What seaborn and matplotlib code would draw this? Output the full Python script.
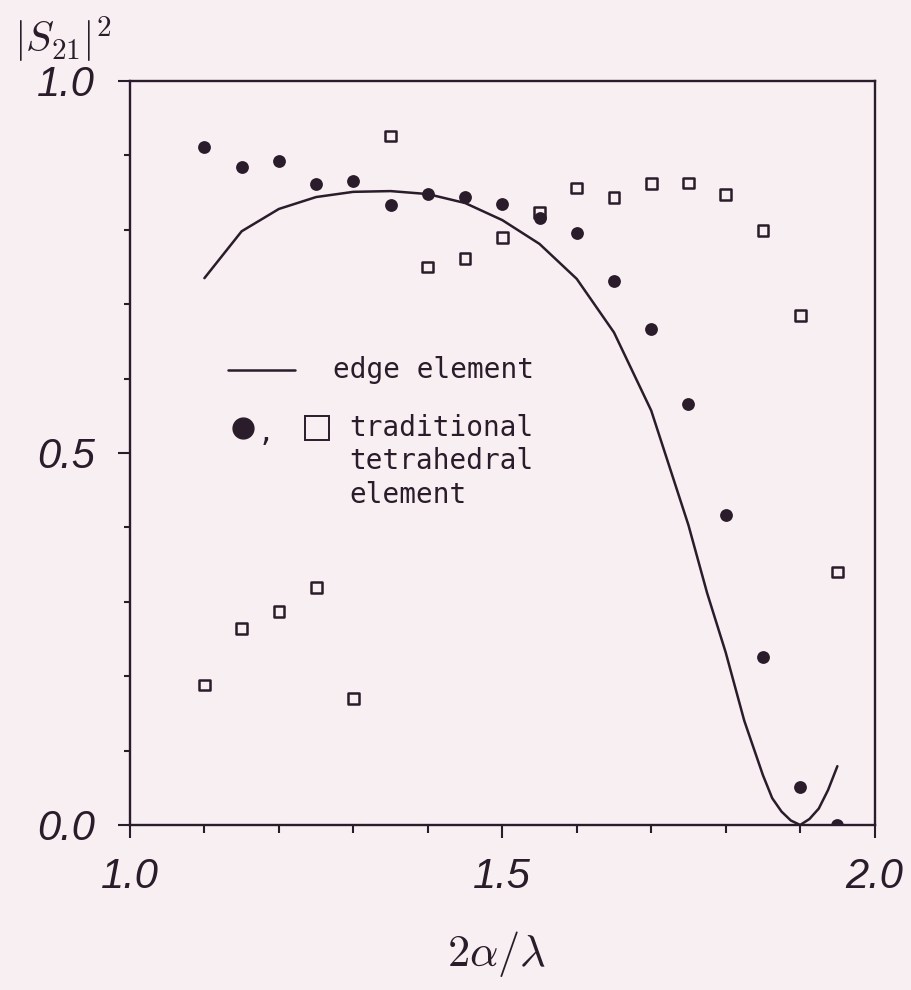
import matplotlib
matplotlib.use("Agg")
import matplotlib.pyplot as plt
import numpy as np
import pandas as pd
import seaborn as sns
from matplotlib.ticker import MultipleLocator, FixedLocator

# normalised frequency 2a/lambda at which the tetrahedral-element results were computed
x_points = [1.10, 1.15, 1.20, 1.25, 1.30, 1.35, 1.40, 1.45, 1.50,
            1.55, 1.60, 1.65, 1.70, 1.75, 1.80, 1.85, 1.90, 1.95]
# traditional tetrahedral element, first mesh (filled circles)
tet_filled = [0.911, 0.884, 0.892, 0.861, 0.866, 0.833, 0.848, 0.844, 0.834,
              0.816, 0.795, 0.731, 0.667, 0.566, 0.416, 0.226, 0.051, 0.0]
# traditional tetrahedral element, second mesh (open squares)
tet_open = [0.188, 0.264, 0.287, 0.319, 0.170, 0.926, 0.750, 0.761, 0.790,
            0.823, 0.856, 0.843, 0.862, 0.863, 0.847, 0.799, 0.685, 0.340]
# edge element solution (solid curve)
edge_x = [1.10, 1.15, 1.20, 1.25, 1.30, 1.35, 1.40, 1.45, 1.50, 1.55,
          1.60, 1.65, 1.70, 1.75, 1.775, 1.80, 1.825, 1.85, 1.8625, 1.875,
          1.8875, 1.90, 1.9125, 1.925, 1.9375, 1.95]
edge_y = [0.735, 0.798, 0.828, 0.844, 0.851, 0.852, 0.848, 0.836, 0.813, 0.781,
          0.734, 0.662, 0.557, 0.403, 0.312, 0.232, 0.140, 0.067, 0.036, 0.018,
          0.006, 0.0, 0.008, 0.022, 0.047, 0.079]

x_ticklabels = ["1.0", "1.5", "2.0"]
y_ticklabels = ["0.0", "0.5", "1.0"]

INK = "#2a1c2a"
PAPER = "#f7eff1"

sns.set_style("white")
plt.rcParams["mathtext.fontset"] = "cm"

fig = plt.figure(figsize=(9.12, 9.90), dpi=100, facecolor=PAPER)
ax = fig.add_axes([0.1425, 0.1667, 0.8165, 0.7515])
ax.set_facecolor(PAPER)

pts = pd.DataFrame({"x": x_points, "filled": tet_filled, "open": tet_open})
edge = pd.DataFrame({"x": edge_x, "y": edge_y})

sns.lineplot(data=edge, x="x", y="y", ax=ax, color=INK, linewidth=1.8,
             sort=False, estimator=None)
sns.scatterplot(data=pts, x="x", y="filled", ax=ax, color=INK, marker="o",
                s=85, linewidth=0, zorder=3)
sns.scatterplot(data=pts, x="x", y="open", ax=ax, marker="s", s=60,
                facecolor="none", edgecolor=INK, linewidth=1.8, zorder=3)

ax.set_xlim(1.0, 2.0)
ax.set_ylim(0.0, 1.0)
ax.set_xlabel("")
ax.set_ylabel("")

ax.xaxis.set_major_locator(FixedLocator([1.0, 1.5, 2.0]))
ax.xaxis.set_minor_locator(MultipleLocator(0.1))
ax.yaxis.set_major_locator(FixedLocator([0.0, 0.5, 1.0]))
ax.yaxis.set_minor_locator(MultipleLocator(0.1))
ax.set_xticklabels(x_ticklabels)
ax.set_yticklabels(y_ticklabels)

for lab in ax.get_xticklabels() + ax.get_yticklabels():
    lab.set_fontfamily("Liberation Sans")
    lab.set_fontstyle("italic")
    lab.set_fontsize(30)
    lab.set_color(INK)

ax.tick_params(axis="both", which="both", direction="out", color=INK,
               bottom=True, left=True, top=False, right=False)
ax.tick_params(axis="y", which="major", length=9, width=1.5, pad=16)
ax.tick_params(axis="y", which="minor", length=4.5, width=1.5)
ax.tick_params(axis="x", which="major", length=9, width=1.5, pad=14)
ax.tick_params(axis="x", which="minor", length=5.5, width=1.5)

for sp in ax.spines.values():
    sp.set_color(INK)
    sp.set_linewidth(1.7)

# hand-drawn key inside the plotting area
mono = dict(family="DejaVu Sans Mono", size=20, color=INK, va="center")
ax.plot([0.1315, 0.2215], [0.611, 0.611], transform=ax.transAxes,
        color=INK, linewidth=1.8)
ax.text(0.2725, 0.611, "edge element", transform=ax.transAxes, **mono)
ax.plot([0.152], [0.533], transform=ax.transAxes, marker="o",
        markersize=15, color=INK, linestyle="none")
ax.text(0.172, 0.527, ",", transform=ax.transAxes, **mono)
ax.plot([0.251], [0.533], transform=ax.transAxes, marker="s",
        markersize=17, markerfacecolor="none", markeredgecolor=INK,
        markeredgewidth=1.4, linestyle="none")
ax.text(0.295, 0.533, "traditional", transform=ax.transAxes, **mono)
ax.text(0.295, 0.489, "tetrahedral", transform=ax.transAxes, **mono)
ax.text(0.295, 0.444, "element", transform=ax.transAxes, **mono)

fig.text(0.069, 0.960, r"$|S_{21}|^2$", ha="center", va="center",
         fontsize=30, color=INK)
fig.text(0.545, 0.036, r"$2\alpha/\lambda$", ha="center", va="center",
         fontsize=32, color=INK)

fig.savefig("out.png", dpi=100, facecolor=PAPER)
